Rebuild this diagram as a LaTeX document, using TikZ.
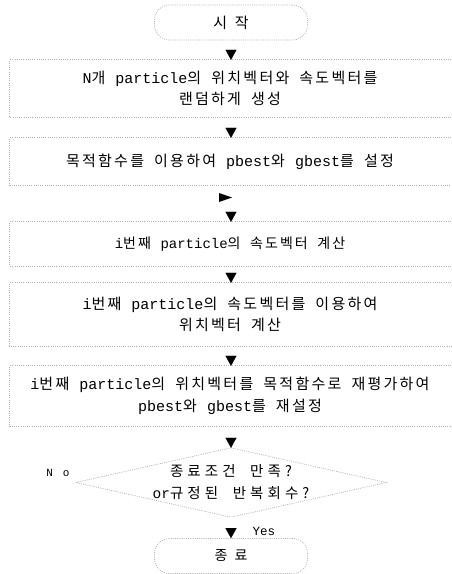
\documentclass[tikz,border=0pt]{standalone}
\usepackage{fontspec}
\setmainfont{Noto Sans CJK KR}
\newfontfamily\kr{Noto Sans CJK KR}[LetterSpace=15,WordSpace=1.8]
\newfontfamily\krt{Noto Sans CJK KR}[LetterSpace=50]
\newfontfamily\krd{Noto Sans CJK KR}[LetterSpace=28,WordSpace=2]
\newfontfamily\mn{Liberation Mono}
\newfontfamily\mnw{Liberation Mono}[LetterSpace=90]
\newcommand\lat[1]{{\mn #1}}
\usetikzlibrary{arrows.meta}
\begin{document}
\begin{tikzpicture}[x=1pt,y=-1pt,
  box/.style={minimum width=440pt, inner sep=0pt, align=center, font=\kr\fontsize{15}{21.5}\selectfont},
  edge/.style={gray!60, line width=0.7pt, dash pattern=on 1pt off 1.2pt},
  term/.style={draw=gray!60, line width=0.7pt, dash pattern=on 1pt off 1.2pt, rounded corners=15pt, minimum width=153pt, minimum height=35pt, inner sep=0pt},
  flow/.style={draw=white, line width=0.1pt, -{Triangle[width=11pt,length=10pt,color=black]}},
]
\useasboundingbox (0,0) rectangle (451,574);
\node[term, font=\krt\fontsize{15}{16}\selectfont] (start) at (231,22.5) {시작};
\node[box, minimum height=57pt] (b1) at (230,88.5) {\lat{N}개 \lat{particle}의 위치벡터와 속도벡터를\\랜덤하게 생성};
\node[box, minimum height=47pt] (b2) at (230,161.5) {목적함수를 이용하여 \lat{pbest}와 \lat{gbest}를 설정};
\node[box, minimum height=44pt, font=\kr\fontsize{14}{21.5}\selectfont] (b3) at (230,244) {\lat{i}번째 \lat{particle}의 속도벡터 계산};
\node[box, minimum height=63pt] (b4) at (230,314.5) {\lat{i}번째 \lat{particle}의 속도벡터를 이용하여\\위치벡터 계산};
\node[box, minimum height=60pt] (b5) at (230,396) {\lat{i}번째 \lat{particle}의 위치벡터를 목적함수로 재평가하여\\\lat{pbest}와 \lat{gbest}를 재설정};
\node[minimum width=310pt, minimum height=69pt, inner sep=0pt, align=center, font=\krd\fontsize{14.5}{22}\selectfont] (dec) at (231,482.5) {종료조건 만족?\\\lat{or}규정된 반복회수?};
\node[term, font=\krt\fontsize{14}{16}\selectfont] (stop) at (231,556) {종료};
\node[font=\mnw\fontsize{11}{13}\selectfont] (no) at (58,473) {No};
\node[font=\mn\fontsize{12.5}{14}\selectfont] (yes) at (264,531) {Yes};
\foreach \b in {b1,b2,b3,b4,b5}
  \draw[edge] ([xshift=1pt]\b.north east) -- (\b.north west) -- (\b.south west) -- ([xshift=1pt]\b.south east);
\draw[edge] (dec.north) -- (dec.east) -- (dec.south) -- (dec.west) -- cycle;
\draw[flow] (start.south) -- (start.south |- b1.north);
\draw[flow] (start.south |- b1.south) -- (start.south |- b2.north);
\draw[flow] (start.south |- b2.south) -- (start.south |- b3.north);
\draw[flow] (start.south |- b3.south) -- (start.south |- b4.north);
\draw[flow] (start.south |- b4.south) -- (start.south |- b5.north);
\draw[flow] (start.south |- b5.south) -- (dec.north);
\draw[flow] (dec.south) -- (stop.north);
\fill (219,193) -- (232,197.5) -- (219,202) -- cycle;
\end{tikzpicture}
\end{document}
